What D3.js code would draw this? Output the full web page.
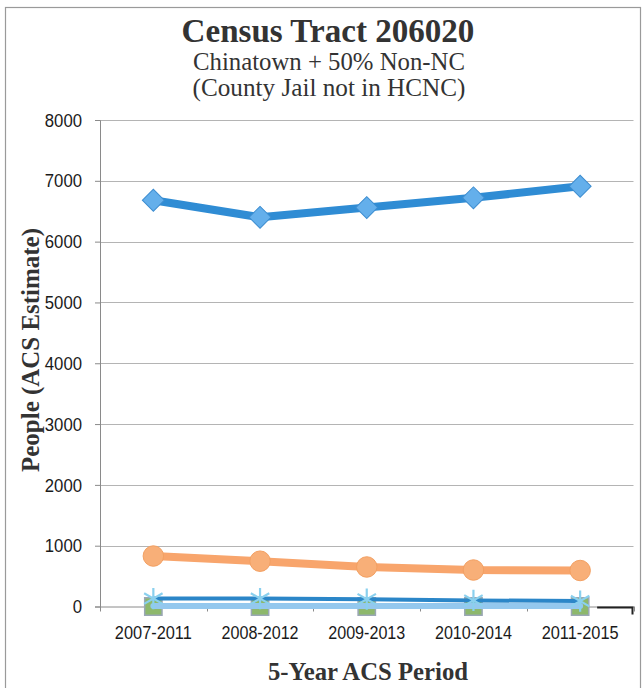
<!DOCTYPE html>
<html>
<head>
<meta charset="utf-8">
<script src="https://cdn.jsdelivr.net/npm/d3@7"></script>
<style>
  html, body { margin: 0; padding: 0; background: #ffffff; }
  svg { display: block; }
</style>
</head>
<body>
<script>
// ---- data ----
const categories = ["2007-2011", "2008-2012", "2009-2013", "2010-2014", "2011-2015"];
const yTickValues = [0, 1000, 2000, 3000, 4000, 5000, 6000, 7000, 8000];
const blueDiamondValues = [6680, 6400, 6560, 6720, 6910];
const orangeCircleValues = [830, 745, 650, 600, 592];
const aquaStarValues = [130, 130, 120, 100, 90];
const lightBlueValues = [10, 10, 10, 10, 10];
const redSquareValues = [0, 0, 0, 0, 0];
const greenSquareValues = [0, 0, 0, 0, 0];

const titleLines = ["Census Tract 206020", "Chinatown + 50% Non-NC", "(County Jail not in HCNC)"];
const xTitle = "5-Year ACS Period";
const yTitle = "People (ACS Estimate)";

// ---- layout ----
const W = 644, H = 688;
const plot = { left: 100, right: 633.5, top: 120, bottom: 606.5 };

const svg = d3.select("body").append("svg").attr("width", W).attr("height", H);

// outer frame
svg.append("rect").attr("x", 5.5).attr("y", 7.5).attr("width", 635).attr("height", 700)
  .attr("fill", "none").attr("stroke", "#9a9a9a").attr("stroke-width", 1.2);

const x = d3.scaleBand().domain(categories).range([plot.left, plot.right]).padding(0);
const y = d3.scaleLinear().domain([0, 8000]).range([plot.bottom, plot.top]);
const cx = c => x(c) + x.bandwidth() / 2;

function fitText(sel, target) {
  const w = sel.node().getComputedTextLength();
  const s = parseFloat(sel.attr("font-size"));
  sel.attr("font-size", (s * target / w).toFixed(2));
}

// gridlines
svg.append("g").selectAll("line").data(yTickValues.filter(d => d > 0)).join("line")
  .attr("x1", plot.left).attr("x2", plot.right)
  .attr("y1", d => Math.round(y(d)) + 0.5).attr("y2", d => Math.round(y(d)) + 0.5)
  .attr("stroke", "#b4b4b4").attr("stroke-width", 1);

// y axis
const yAxis = svg.append("g").attr("transform", `translate(${plot.left},0)`)
  .call(d3.axisLeft(y).tickValues(yTickValues).tickSize(5).tickPadding(13).tickFormat(d3.format("d")));
yAxis.select(".domain").attr("stroke", "#8a8a8a");
yAxis.selectAll(".tick line").attr("stroke", "#8a8a8a");
yAxis.selectAll(".tick text").attr("font-family", "Liberation Sans, Arial, sans-serif")
  .attr("font-size", 18).attr("fill", "#1a1a1a").attr("dy", "0.34em")
  .each(function () {
    const n = this.textContent.length;
    d3.select(this).attr("textLength", n * 9.3).attr("lengthAdjust", "spacingAndGlyphs");
  });

// x axis
const xAxis = svg.append("g").attr("transform", `translate(0,${plot.bottom})`)
  .call(d3.axisBottom(x).tickSize(0).tickPadding(20));
xAxis.select(".domain").attr("stroke", "#8a8a8a");
xAxis.selectAll(".tick text").attr("font-family", "Liberation Sans, Arial, sans-serif")
  .attr("font-size", 18).attr("fill", "#1a1a1a")
  .attr("textLength", 77).attr("lengthAdjust", "spacingAndGlyphs");
// boundary tick marks between categories
const boundaries = categories.map(c => x(c)).concat([x.range()[1]]);
svg.append("g").selectAll("line").data(boundaries).join("line")
  .attr("x1", d => Math.round(d) + 0.5).attr("x2", d => Math.round(d) + 0.5)
  .attr("y1", plot.bottom).attr("y2", plot.bottom + 5)
  .attr("stroke", "#8a8a8a");

// titles
const tFont = "Liberation Serif, 'Times New Roman', serif";
const t1 = svg.append("text").attr("x", 328).attr("y", 42).attr("text-anchor", "middle")
  .attr("font-family", tFont).attr("font-weight", "bold").attr("font-size", 30)
  .attr("fill", "#333").text(titleLines[0]);
fitText(t1, 293);
const t2 = svg.append("text").attr("x", 329).attr("y", 70).attr("text-anchor", "middle")
  .attr("font-family", tFont).attr("font-size", 24)
  .attr("fill", "#333").text(titleLines[1]);
fitText(t2, 272);
const t3 = svg.append("text").attr("x", 329).attr("y", 96).attr("text-anchor", "middle")
  .attr("font-family", tFont).attr("font-size", 24)
  .attr("fill", "#333").text(titleLines[2]);
fitText(t3, 273);

const xt = svg.append("text").attr("x", 368).attr("y", 680).attr("text-anchor", "middle")
  .attr("font-family", tFont).attr("font-weight", "bold").attr("font-size", 24)
  .attr("fill", "#333").text(xTitle);
fitText(xt, 200);

const yt = svg.append("text").attr("transform", "translate(39,350) rotate(-90)")
  .attr("text-anchor", "middle")
  .attr("font-family", tFont).attr("font-weight", "bold").attr("font-size", 24)
  .attr("fill", "#333").text(yTitle);
fitText(yt, 244);

// ---- series ----
const line = d3.line().x((d, i) => cx(categories[i])).y(d => y(d));
const g = svg.append("g");

function drawLine(values, color, width) {
  g.append("path").datum(values).attr("d", line).attr("fill", "none")
    .attr("stroke", color).attr("stroke-width", width)
    .attr("stroke-linejoin", "round").attr("stroke-linecap", "round");
}
function drawMarkers(values, symbolType, size, fill, stroke, rotate, sw) {
  g.append("g").selectAll("path").data(values).join("path")
    .attr("d", d3.symbol(symbolType, size))
    .attr("transform", (d, i) => `translate(${cx(categories[i])},${y(d)}) rotate(${rotate || 0})`)
    .attr("fill", fill).attr("stroke", stroke).attr("stroke-width", sw || 1);
}

// main blue diamond series
drawLine(blueDiamondValues, "#2F8CD4", 8);
drawMarkers(blueDiamondValues, d3.symbolSquare, 240, "#64AFEB", "#3D8DD0", 45, 1);

// red squares at zero
drawLine(redSquareValues, "#D0504A", 3);
drawMarkers(redSquareValues, d3.symbolSquare, 150, "#D9635C", "#C0504D", 0, 1);

// green squares at zero
drawMarkers(greenSquareValues, d3.symbolSquare, 300, "#8DB86C", "#9aa7b5", 0, 1.5);

// light blue band near zero
drawLine(lightBlueValues, "#94C8EE", 6);

// aqua star series
drawLine(aquaStarValues, "#2B86C8", 4);
drawMarkers(aquaStarValues, d3.symbolAsterisk || d3.symbolCross, 320, "none", "#8AD0EE", 0, 2.2);

// orange circles
drawLine(orangeCircleValues, "#F8A56C", 8);
drawMarkers(orangeCircleValues, d3.symbolCircle, 330, "#F8AF78", "#F3A062", 0, 1);

// small dark bracket at lower right
const bx0 = cx(categories[categories.length - 1]) + 17;
svg.append("path")
  .attr("d", `M${bx0},${plot.bottom + 1} H${plot.right - 1} V${plot.bottom + 8}`)
  .attr("fill", "none").attr("stroke", "#222").attr("stroke-width", 2);
</script>
</body>
</html>
